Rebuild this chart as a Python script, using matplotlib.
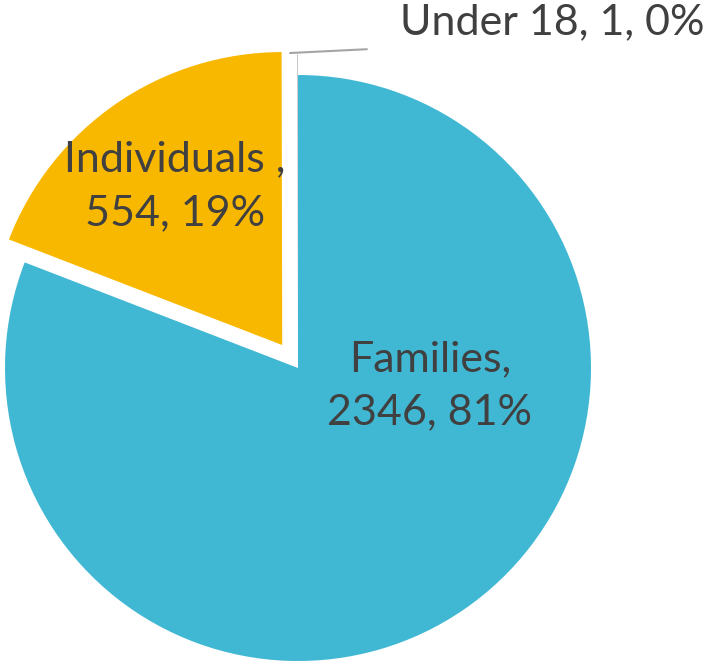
import numpy as np
import matplotlib.pyplot as plt

plt.rcParams['font.family'] = ['Lato', 'DejaVu Sans']

# data
categories = ['Families', 'Individuals', 'Under 18']
counts = [2346, 554, 1]
percents = ['81%', '19%', '0%']
colors = ['#40B8D3', '#F9B800', '#A5A5A5']

fig = plt.figure(figsize=(7.10, 6.64), dpi=100)
ax = fig.add_axes([298 / 710 - 293 / 710, 3 / 664, 586 / 710, 586 / 664])

wedges, _ = ax.pie(counts, colors=colors, startangle=90, counterclock=False,
                   explode=[0, 0.095, 0.07], radius=1.0,
                   wedgeprops=dict(linewidth=0))
ax.set_xlim(-1, 1)
ax.set_ylim(-1, 1)
ax.set_aspect('auto')
ax.axis('off')

txt = dict(color='#404040', fontsize=31, ha='center', va='center', linespacing=1.5)

# Families label
ax.text(0.45, -0.06, f'{categories[0]},\n{counts[0]}, {percents[0]}', **txt)
# Individuals label
ax.text(-0.42, 0.62, f'{categories[1]} ,\n{counts[1]}, {percents[1]}', **txt)

# Under 18 label with leader line
ax.annotate('', xy=(-0.027, 1.075), xytext=(0.235, 1.088),
            annotation_clip=False,
            arrowprops=dict(arrowstyle='-', color='#A5A5A5', lw=1.5,
                            shrinkA=0, shrinkB=0))
ax.text(0.867, 1.18, f'{categories[2]}, {counts[2]}, {percents[2]}',
        color='#404040', fontsize=31, ha='center', va='center')

fig.savefig('out.png', dpi=100)
